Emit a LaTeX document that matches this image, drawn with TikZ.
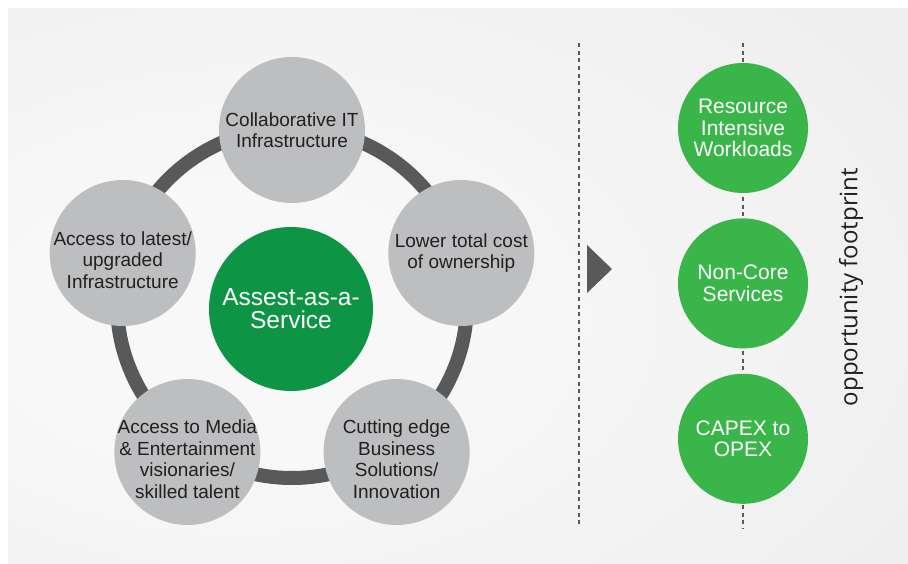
\documentclass[tikz,border=0pt]{standalone}
\usepackage{fontspec}
\setmainfont{Liberation Sans}
\newfontfamily\captionfont{Open Sans}
\usepackage{xcolor}
\usepackage{tikz}
\usetikzlibrary{positioning,calc}

\definecolor{ringgray}{HTML}{58595B}
\definecolor{bubblegray}{HTML}{BCBEC0}
\definecolor{textgray}{HTML}{231F20}
\definecolor{hubgreen}{HTML}{0E9445}
\definecolor{leafgreen}{HTML}{3AB54A}
\definecolor{bgin}{HTML}{F8F8F8}
\definecolor{bgmid}{HTML}{EDEDEE}
\definecolor{bgout}{HTML}{E0E1E2}

\pgfdeclareradialshading{backdrop}{\pgfpoint{-16bp}{-4bp}}{color(0bp)=(bgin); color(12bp)=(bgin); color(45bp)=(bgmid); color(80bp)=(bgout)}

% text of the lower bubbles sits a little below their centre
\newcommand{\sunk}[1]{\raisebox{-14pt}[0pt][0pt]{\begin{tabular}{@{}c@{}}#1\end{tabular}}}

\begin{document}
\begin{tikzpicture}[
    x=1pt, y=1pt,
    font=\fontsize{19}{21.5}\selectfont,
    perk/.style={circle, fill=bubblegray, text=textgray, minimum size=146pt, inner sep=0pt, align=center},
    hub/.style={circle, fill=hubgreen, text=white, minimum size=164pt, inner sep=0pt, align=center, font=\fontsize{24.5}{23}\selectfont},
    footprint/.style={circle, fill=leafgreen, text=white, minimum size=130pt, inner sep=0pt, align=center, font=\fontsize{21}{21.5}\selectfont},
    divider/.style={ringgray, line width=2pt, dash pattern=on 4pt off 3.7pt}
]

% backdrop
\useasboundingbox (0,0) rectangle (908,563);
\shade[shading=backdrop] (8,0) rectangle (908,554);

% ring behind the bubbles
\coordinate (ringc) at (292,260);
\draw[ringgray, line width=14pt] (ringc) circle[radius=175];

% centre
\node[hub] (hub) at (291,254) {Assest-as-a-\\Service};

% benefits round the ring
\coordinate (pent) at (292,255);
\node[perk] (collab) at ($(pent)+(90:178)$) {Collaborative IT\\Infrastructure};
\node[perk] (tco) at ($(pent)+(18:178)$) {Lower total cost\\of ownership};
\node[perk] (cutting) at ($(pent)+(-54:178)$) {\sunk{Cutting edge\\Business\\Solutions/\\Innovation}};
\node[perk] (media) at ($(pent)+(-126:178)$) {\sunk{Access to Media\\\& Entertainment\\visionaries/\\skilled talent}};
\node[perk] (latest) at ($(pent)+(162:178)$) {\sunk{Access to latest/\\upgraded\\Infrastructure}};

% divider and arrow
\coordinate (splittop) at (579,520);
\coordinate (splitbot) at (579,36);
\draw[divider] (splittop) -- (splitbot);
\fill[ringgray] (587,318) -- (612,294) -- (587,270) -- cycle;

% opportunity column
\coordinate (railtop) at (743,520);
\coordinate (railbot) at (743,34);
\draw[divider] (railtop) -- (railbot);

\node[footprint] (workloads) at (743,435) {Resource\\Intensive\\Workloads};
\node[footprint, below=25pt of workloads] (noncore) {Non-Core\\Services};
\node[footprint, below=25pt of noncore] (capex) {CAPEX to\\OPEX};

% side caption
\node[rotate=90, text=textgray, font=\captionfont\fontsize{24}{24}\selectfont] (caption) at (851,276) {opportunity footprint};

\end{tikzpicture}
\end{document}
